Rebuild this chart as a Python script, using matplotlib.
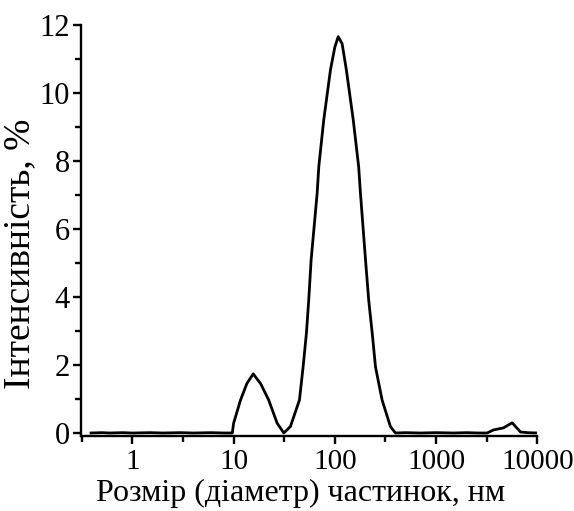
import matplotlib.pyplot as plt
from matplotlib.ticker import FixedLocator, NullFormatter
import numpy as np

# particle size distribution (DLS)
size_nm = [0.39, 0.5, 0.6, 0.8, 1.0, 1.5, 2.0, 3.0, 4.0, 6.0, 8.0, 9.7,
           10.0, 11.7, 13.5, 15.6, 18.5, 22.2, 26.9, 31.3,
           36.4, 44.7, 48.6, 52.4, 55.2, 58.3, 66.9, 69.4, 77.7, 90.5, 100, 108,
           118, 130, 152, 172, 179, 201, 216, 234, 252, 293, 354, 397,
           500, 700, 1000, 1500, 2000, 2600, 3200,
           3690, 4630, 5650, 6820, 8000, 9980]
intensity = [0.0, 0.01, 0.0, 0.01, 0.0, 0.01, 0.0, 0.01, 0.0, 0.01, 0.0, 0.0,
             0.29, 0.97, 1.45, 1.74, 1.45, 0.97, 0.29, 0.0,
             0.19, 0.97, 1.95, 2.94, 3.91, 5.09, 7.06, 7.83, 9.21, 10.68, 11.35, 11.66,
             11.45, 10.68, 9.21, 7.83, 7.06, 5.09, 3.91, 2.94, 1.95, 0.97, 0.19, 0.0,
             0.01, 0.0, 0.01, 0.0, 0.01, 0.0, 0.0,
             0.09, 0.15, 0.30, 0.03, 0.01, 0.0]

xticks = [1, 10, 100, 1000, 10000]
xticklabels = ['1', '10', '100', '1000', '10000']
yticks = [0, 2, 4, 6, 8, 10, 12]

plt.rcParams['font.family'] = ['Liberation Serif', 'DejaVu Serif']

fig = plt.figure(figsize=(5.74, 5.11), dpi=100)
ax = fig.add_axes([0.141, 0.146, 0.795, 0.805])

ax.plot(size_nm, intensity, color='black', linewidth=2.0)

ax.set_xscale('log')
ax.set_xlim(0.31, 10000)
ax.set_ylim(-0.1, 12)

ax.xaxis.set_major_locator(FixedLocator(xticks))
ax.set_xticklabels(xticklabels)
ax.xaxis.set_minor_locator(FixedLocator([10 ** (k + 0.5) for k in range(-1, 4)]))
ax.xaxis.set_minor_formatter(NullFormatter())
ax.set_yticks(yticks)
ax.yaxis.set_minor_locator(FixedLocator([1, 3, 5, 7, 9, 11]))

for s in ['top', 'right']:
    ax.spines[s].set_visible(False)
for s in ['left', 'bottom']:
    ax.spines[s].set_linewidth(1.7)

ax.tick_params(which='major', direction='out', length=6, width=1.7, pad=2)
ax.tick_params(axis='x', which='major', labelsize=21, pad=3)
ax.tick_params(axis='y', which='major', labelsize=22)
ax.tick_params(which='minor', direction='out', length=4, width=1.7)

ax.set_xlabel('Розмір (діаметр) частинок, нм', fontsize=23, va='center')
ax.xaxis.set_label_coords(0.482, -0.138)
ax.set_ylabel('Інтенсивність, %', fontsize=27, va='center')
ax.yaxis.set_label_coords(-0.134, 0.445)

fig.savefig('out.png', dpi=100)
